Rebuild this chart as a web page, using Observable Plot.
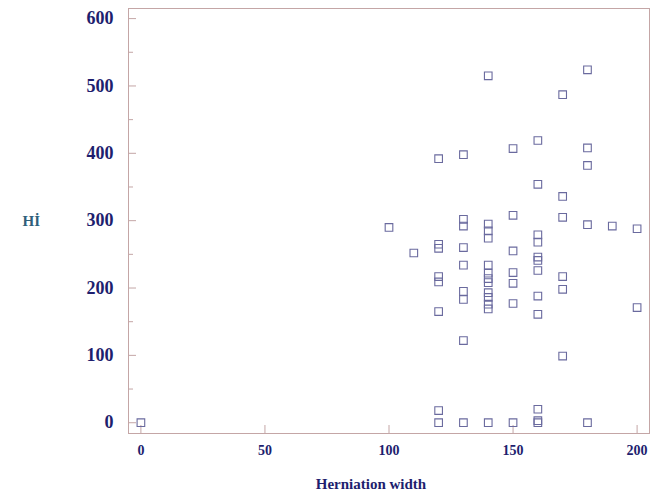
<!DOCTYPE html>
<html>
<head>
<meta charset="utf-8">
<script src="https://cdn.jsdelivr.net/npm/d3@7"></script>
<script src="https://cdn.jsdelivr.net/npm/@observablehq/plot@0.6"></script>
<style>
  html, body { margin: 0; padding: 0; background: #fff; }
</style>
</head>
<body>
<div id="chart"></div>
<script>
// Herniation width (x) and Hİ (y) per observation
const widths = [
  0,
  100,
  110,
  120, 120, 120, 120, 120, 120, 120, 120,
  130, 130, 130, 130, 130, 130, 130, 130, 130,
  140, 140, 140, 140, 140, 140, 140, 140, 140, 140, 140, 140, 140,
  150, 150, 150, 150, 150, 150, 150,
  160, 160, 160, 160, 160, 160, 160, 160, 160, 160, 160, 160,
  170, 170, 170, 170, 170, 170,
  180, 180, 180, 180, 180,
  190,
  200, 200
];
const hiValues = [
  0,
  290,
  252,
  392, 265, 259, 217, 209, 165, 18, 0,
  398, 302, 292, 260, 234, 195, 183, 122, 0,
  515, 295, 285, 274, 234, 222, 214, 208, 193, 186, 176, 169, 0,
  407, 308, 255, 223, 207, 177, 0,
  419, 354, 279, 268, 246, 241, 226, 188, 161, 20, 3, 0,
  487, 336, 305, 217, 198, 99,
  524, 408, 382, 294, 0,
  292,
  288, 171
];
const xTicks = [0, 50, 100, 150, 200];
const yTicks = [0, 100, 200, 300, 400, 500, 600];
const yMinorTicks = [50, 150, 250, 350, 450, 550];
const xLabel = "Herniation width";
const yLabel = "Hİ";

const data = widths.map((w, i) => ({width: w, hi: hiValues[i]}));

const W = 651, H = 496;
const mL = 128, mR = 2, mT = 8, mB = 63;
const frameW = W - mL - mR, frameH = H - mT - mB;

const frameColor = "#c4a6a6";
const labelColor = "#1e1e6e";

const chart = Plot.plot({
  width: W,
  height: H,
  marginLeft: mL,
  marginRight: mR,
  marginTop: mT,
  marginBottom: mB,
  style: {fontFamily: "'Liberation Serif', serif", color: labelColor, background: "#fff"},
  x: {domain: [-5, 205], axis: null},
  y: {domain: [-16, 615], axis: null},
  marks: [
    Plot.frame({stroke: frameColor}),
    // inward ticks
    Plot.tickY(yTicks, {y: d => d, insetRight: frameW - 8, stroke: frameColor}),
    Plot.tickY(yMinorTicks, {y: d => d, insetRight: frameW - 5, stroke: frameColor}),
    Plot.tickX(xTicks, {x: d => d, insetTop: frameH - 8, stroke: frameColor}),
    // tick labels
    Plot.axisY({ticks: yTicks, tickSize: 0, tickPadding: 15, label: null, fontSize: 18, fontWeight: "bold", fill: labelColor}),
    Plot.axisX({ticks: xTicks, tickSize: 0, tickPadding: 12, label: null, fontSize: 14, fontWeight: "bold", fill: labelColor}),
    // axis titles
    Plot.text([xLabel], {text: d => d, frameAnchor: "bottom", dx: -18, dy: 55, fontSize: 15, fontWeight: "bold", fill: labelColor}),
    Plot.text([yLabel], {text: d => d, frameAnchor: "left", dx: -106, fontSize: 15, fontWeight: "bold", fill: "#2f5f7a"}),
    // points
    Plot.dot(data, {x: "width", y: "hi", symbol: "square", r: 4.3, stroke: "#6a6a9e", strokeWidth: 1.1, fill: "none"})
  ]
});
document.getElementById("chart").appendChild(chart);
</script>
</body>
</html>
